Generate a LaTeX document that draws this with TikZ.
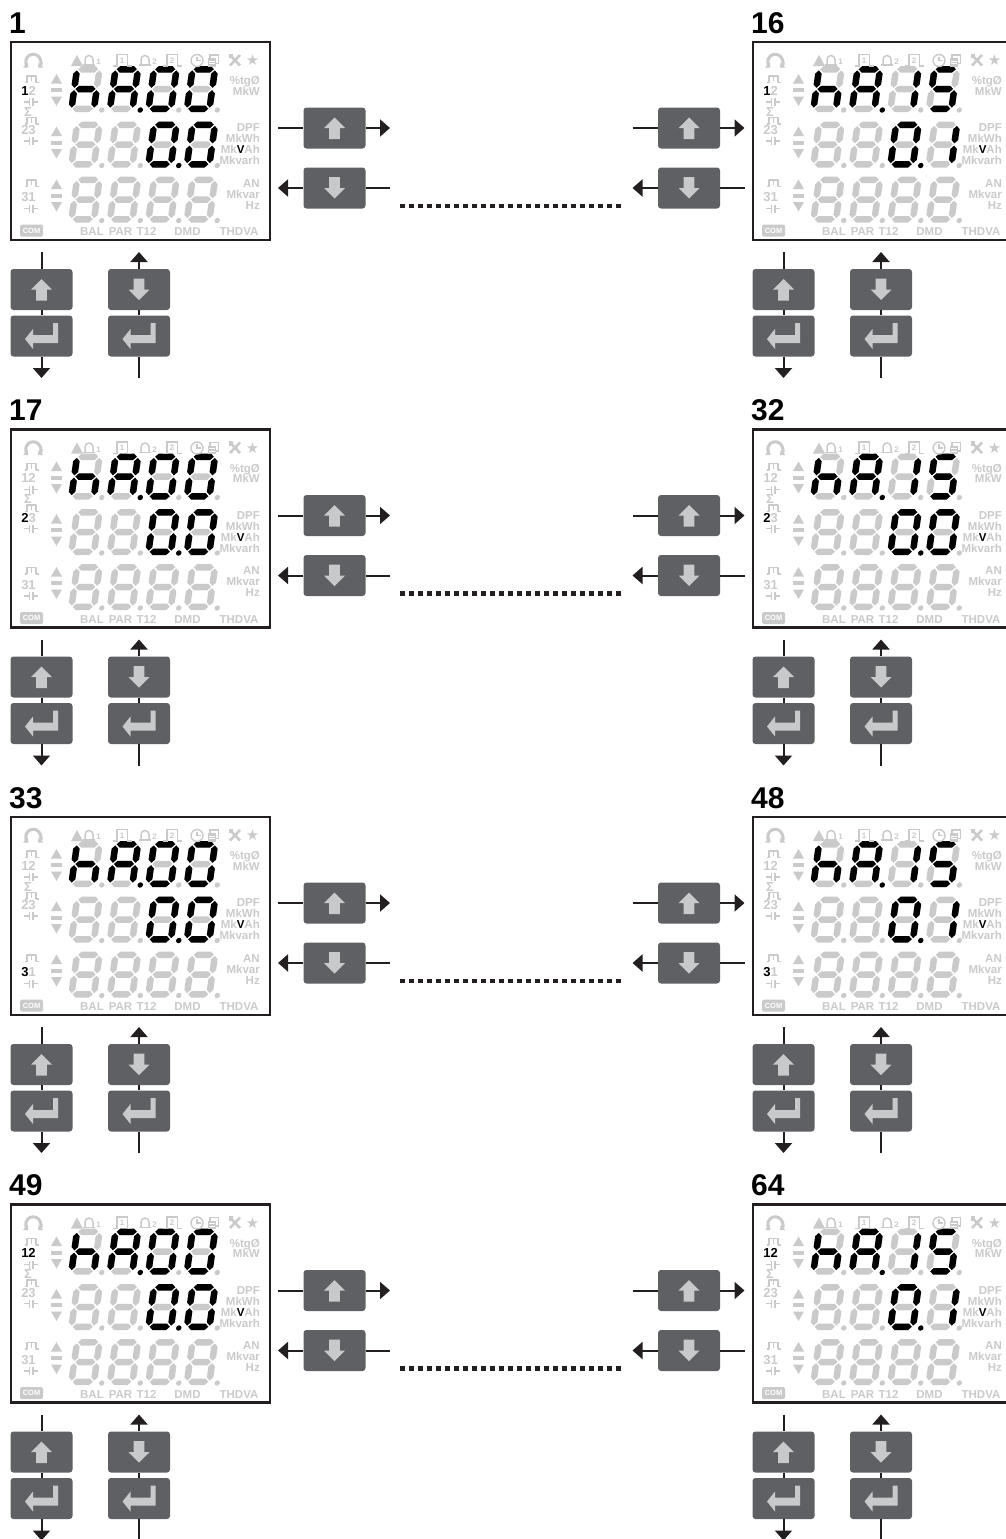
\documentclass[tikz,border=0pt]{standalone}
\usepackage{fontspec}
\setmainfont{Liberation Sans}
\newfontfamily\dejavu{DejaVu Sans}
\usetikzlibrary{arrows.meta}
\definecolor{lcdg}{RGB}{202,202,202}
\definecolor{btnfill}{RGB}{94,96,99}
\definecolor{btnicon}{RGB}{200,201,203}
\definecolor{ink}{RGB}{35,31,32}
\newcommand\K[1]{{\color{black}#1}}
\def\segA{\fill (-10.05,-19.75) -- (-6.8,-23) -- (6.8,-23) -- (10.05,-19.75) -- (6.8,-16.5) -- (-6.8,-16.5) -- cycle;}
\def\segG{\fill (-10.05,0) -- (-6.8,-3.25) -- (6.8,-3.25) -- (10.05,0) -- (6.8,3.25) -- (-6.8,3.25) -- cycle;}
\def\segD{\fill (-10.05,19.75) -- (-6.8,16.5) -- (6.8,16.5) -- (10.05,19.75) -- (6.8,23) -- (-6.8,23) -- cycle;}
\def\segF{\fill (-11.25,-18.55) -- (-8,-15.3) -- (-8,-4.45) -- (-11.25,-1.2) -- (-14.5,-4.45) -- (-14.5,-15.3) -- cycle;}
\def\segE{\fill (-11.25,1.2) -- (-8,4.45) -- (-8,15.3) -- (-11.25,18.55) -- (-14.5,15.3) -- (-14.5,4.45) -- cycle;}
\def\segB{\fill (11.25,-18.55) -- (14.5,-15.3) -- (14.5,-4.45) -- (11.25,-1.2) -- (8,-4.45) -- (8,-15.3) -- cycle;}
\def\segC{\fill (11.25,1.2) -- (14.5,4.45) -- (14.5,15.3) -- (11.25,18.55) -- (8,15.3) -- (8,4.45) -- cycle;}
\def\segP{\fill (19.2,21) circle (2.7pt);}
\newcommand\dig[3]{\begin{scope}[shift={(#1,#2)},xslant=0.14]\foreach \sg in {#3}{\csname seg\sg\endcsname}\end{scope}}
\newcommand\wavesym[2]{\draw[lcdg,line width=1.5pt,line join=round] (#1-7,#2+3.5) -- (#1-4.5,#2+3.5) -- (#1-4.5,#2-3) -- (#1+4.5,#2-3) -- (#1+4.5,#2+3.5) -- (#1+7,#2+3.5) (#1,#2-3) -- (#1,#2+2);}
\newcommand\capsym[2]{\draw[lcdg,line width=1.4pt] (#1-7,#2) -- (#1-1.8,#2) (#1-1.8,#2-4) -- (#1-1.8,#2+4) (#1+1.8,#2-4) -- (#1+1.8,#2+4) (#1+1.8,#2) -- (#1+7,#2);}
\newcommand\updn[1]{\fill[lcdg] (40,#1-6.5) -- (51,#1-6.5) -- (45.5,#1-16) -- cycle; \fill[lcdg] (40,#1-2) rectangle (51,#1+2); \fill[lcdg] (40,#1+6.5) -- (51,#1+6.5) -- (45.5,#1+16) -- cycle;}
\newcommand\bellsym[2]{\draw[lcdg,line width=1.5pt] (#1-4,23) -- (#1-4,17.5) arc[start angle=180,end angle=0,radius=4pt] -- (#1+4,23); \draw[lcdg,line width=1.5pt] (#1-6,23) -- (#1+6,23); \node[lcdsm] at (#1+9.5,20) {#2};}
\newcommand\pulsesym[2]{\draw[lcdg,line width=1.4pt] (#1-10,24) -- (#1-6,24) -- (#1-6,12.5) -- (#1+4.5,12.5) -- (#1+4.5,24) -- (#1+9,24); \node[lcdsm] at (#1-0.8,18.5) {#2};}
% LCD panel: #1 ox, #2 oy, #3 "12", #4 "23", #5 "31", #6 row1 digit3, #7 row1 digit4, #8 row2 digit4
\newcommand\lcd[8]{%
\begin{scope}[shift={(#1,#2)}]
\draw[ink,line width=2.6pt] (0,0) rectangle (259,198);
\begin{scope}[fill=lcdg]
\foreach \rr in {47,102.5,157.5}{\foreach \ii in {0,1,2,3}{\dig{74.5+38.5*\ii}{\rr}{A,B,C,D,E,F,G,P}}}
\end{scope}
\begin{scope}[fill=black]
\dig{74.5}{47}{F,E,G,C}
\dig{113}{47}{A,B,C,E,F,G,P}
\dig{151.5}{47}{#6}
\dig{190}{47}{#7}
\dig{151.5}{102.5}{A,B,C,D,E,F,P}
\dig{190}{102.5}{#8}
\end{scope}
\draw[lcdg,line width=3pt,{Triangle[length=4pt,width=7pt]}-{Triangle[length=4pt,width=7pt]}] (27,25.5) arc[start angle=-50,end angle=230,radius=7.5pt];
\wavesym{20.5}{37}
\node[lcdnum] at (17.5,48.5) {#3};
\capsym{20}{60}
\node[lcdnum] at (17,69.5) {Σ};
\wavesym{20.5}{78.5}
\node[lcdnum] at (17.5,88) {#4};
\capsym{20}{99}
\wavesym{20.5}{141}
\node[lcdnum] at (17.5,155) {#5};
\capsym{20}{166.5}
\node[fill=lcdg,rounded corners=1.5pt,minimum width=23pt,minimum height=12pt,inner sep=0pt,text=white,font=\fontsize{7.5}{7.5}\selectfont\bfseries] at (20.5,188.5) {COM};
\updn{48}
\updn{100.5}
\updn{153.5}
\fill[lcdg] (60,24) -- (72,24) -- (66,13) -- cycle;
\bellsym{78}{1}
\pulsesym{112}{1}
\bellsym{134}{2}
\pulsesym{162}{2}
\draw[lcdg,line width=1.4pt] (186,18.5) circle (6pt);
\draw[lcdg,line width=1.4pt] (186,14.5) -- (186,18.5) -- (189.5,18.5);
\fill[lcdg] (196.5,16) rectangle (205,24.5);
\draw[lcdg,line width=1.2pt] (199,16) -- (199,13) -- (207.5,13) -- (207.5,21.5) -- (205,21.5);
\draw[white,line width=0.9pt] (198,19) -- (203.5,19) (198,21.8) -- (203.5,21.8);
\draw[lcdg,line width=2.6pt] (219,13) -- (229,23.5) (229,13) -- (219,23.5);
\fill[lcdg] (217.5,11.5) rectangle (222,16);
\node[text=lcdg,font=\dejavu\fontsize{15}{15}\selectfont,inner sep=0pt] at (241.5,18.5) {★};
\node[lcdtxt,anchor=east] at (249,38.5) {\%tgØ};
\node[lcdtxt,anchor=east] at (249,49) {MkW};
\node[lcdtxt,anchor=east] at (249,85.5) {DPF};
\node[lcdtxt,anchor=east] at (249,96.5) {MkWh};
\node[lcdtxt,anchor=east] at (249,107.5) {Mk\K{V}Ah};
\node[lcdtxt,anchor=east] at (249,118.5) {Mkvarh};
\node[lcdtxt,anchor=east] at (249,141) {AN};
\node[lcdtxt,anchor=east] at (249,152) {Mkvar};
\node[lcdtxt,anchor=east] at (249,163) {Hz};
\node[lcdtxt] at (81,189.5) {BAL};
\node[lcdtxt] at (109.5,189.5) {PAR};
\node[lcdtxt] at (135.5,189.5) {T12};
\node[lcdtxt] at (176.5,189.5) {DMD};
\node[lcdtxt] at (228,189.5) {THDVA};
\end{scope}}
\newcommand\hbtns[3]{%
\node[btn] (hu#1) at (#2,#3+86) {}; \pic at (hu#1) {upicon};
\node[btn] (hd#1) at (#2,#3+146) {}; \pic at (hd#1) {dnicon};
\coordinate (hua#1) at (#2-56.5,#3+86);
\coordinate (hub#1) at (#2+55.5,#3+86);
\coordinate (hda#1) at (#2-56.5,#3+146);
\coordinate (hdb#1) at (#2+55.5,#3+146);
\draw[conn] (hua#1) -- (hu#1);
\draw[conn,arr] (hu#1) -- (hub#1);
\draw[conn,arr] (hd#1) -- (hda#1);
\draw[conn] (hd#1) -- (hdb#1);}
\newcommand\stacks[3]{%
\node[btn] (su#1) at (#2+30.5,#3+247.5) {}; \pic at (su#1) {upicon};
\node[btn] (se#1) at (#2+30.5,#3+294) {}; \pic at (se#1) {enicon};
\coordinate (st#1) at (#2+30.5,#3+210);
\coordinate (sb#1) at (#2+30.5,#3+336);
\draw[conn] (st#1) -- (su#1);
\draw[conn] (su#1) -- (se#1);
\draw[conn,arr] (se#1) -- (sb#1);
\node[btn] (sd#1) at (#2+128,#3+247.5) {}; \pic at (sd#1) {dnicon};
\node[btn] (sf#1) at (#2+128,#3+294) {}; \pic at (sf#1) {enicon};
\coordinate (tt#1) at (#2+128,#3+210);
\coordinate (tb#1) at (#2+128,#3+336);
\draw[conn] (tb#1) -- (sf#1);
\draw[conn] (sf#1) -- (sd#1);
\draw[conn,arr] (sd#1) -- (tt#1);}
\newcommand\dotrow[2]{%
\coordinate (da#1) at (400,#2+164);
\coordinate (db#1) at (623,#2+164);
\draw[dotline] (da#1) -- (db#1);}
\begin{document}
\begin{tikzpicture}[x=1pt,y=-1pt,
  lcdtxt/.style={text=lcdg,font=\fontsize{11.5}{11.5}\selectfont\bfseries,inner sep=0pt,text height=8.3pt,text depth=0pt},
  lcdnum/.style={text=lcdg,font=\fontsize{13}{13}\selectfont\bfseries,inner sep=0pt,text height=9.3pt,text depth=0pt},
  lcdsm/.style={text=lcdg,font=\fontsize{8}{8}\selectfont\bfseries,inner sep=0pt},
  lbl/.style={font=\fontsize{30}{30}\selectfont\bfseries,inner sep=0pt,anchor=base west,text=black},
  btn/.style={fill=btnfill,rounded corners=3pt,minimum width=62pt,minimum height=41pt,inner sep=0pt},
  conn/.style={draw=ink,line width=2pt},
  arr/.style={-{Triangle[length=10pt,width=17pt]}},
  dotline/.style={draw=ink,line width=4.5pt,dash pattern=on 5pt off 4pt},
  upicon/.pic={\fill[btnicon] (0,-10.5) -- (10.5,0) -- (5.3,0) -- (5.3,11) -- (-5.3,11) -- (-5.3,0) -- (-10.5,0) -- cycle;},
  dnicon/.pic={\fill[btnicon] (0,10.5) -- (10.5,0) -- (5.3,0) -- (5.3,-11) -- (-5.3,-11) -- (-5.3,0) -- (-10.5,0) -- cycle;},
  enicon/.pic={\fill[btnicon] (16.5,-13) -- (16.5,7) -- (-8.5,7) -- (-8.5,13) -- (-16.5,3) -- (-8.5,-7) -- (-8.5,-1) -- (11.5,-1) -- (11.5,-13) -- cycle;}
]
\useasboundingbox (0,0) rectangle (1006,1539);
% row 1
\node[lbl] (lab1) at (9,33) {1};
\node[lbl] (lab16) at (751,33) {16};
\lcd{11}{42}{\K{1}2}{23}{31}{A,B,C,D,E,F}{A,B,C,D,E,F}{A,B,C,D,E,F}
\lcd{753}{42}{\K{1}2}{23}{31}{B,C}{A,F,G,C,D}{B,C}
\hbtns{a1}{334.5}{42}
\hbtns{b1}{689}{42}
\dotrow{1}{42}
\stacks{a1}{11}{42}
\stacks{b1}{753}{42}
% row 2
\node[lbl] (lab17) at (9,420.5) {17};
\node[lbl] (lab32) at (751,420.5) {32};
\lcd{11}{429.5}{12}{\K{2}3}{31}{A,B,C,D,E,F}{A,B,C,D,E,F}{A,B,C,D,E,F}
\lcd{753}{429.5}{12}{\K{2}3}{31}{B,C}{A,F,G,C,D}{A,B,C,D,E,F}
\hbtns{a2}{334.5}{429.5}
\hbtns{b2}{689}{429.5}
\dotrow{2}{429.5}
\stacks{a2}{11}{429.5}
\stacks{b2}{753}{429.5}
% row 3
\node[lbl] (lab33) at (9,808) {33};
\node[lbl] (lab48) at (751,808) {48};
\lcd{11}{817}{12}{23}{\K{3}1}{A,B,C,D,E,F}{A,B,C,D,E,F}{A,B,C,D,E,F}
\lcd{753}{817}{12}{23}{\K{3}1}{B,C}{A,F,G,C,D}{B,C}
\hbtns{a3}{334.5}{817}
\hbtns{b3}{689}{817}
\dotrow{3}{817}
\stacks{a3}{11}{817}
\stacks{b3}{753}{817}
% row 4
\node[lbl] (lab49) at (9,1195.5) {49};
\node[lbl] (lab64) at (751,1195.5) {64};
\lcd{11}{1204.5}{\K{12}}{23}{31}{A,B,C,D,E,F}{A,B,C,D,E,F}{A,B,C,D,E,F}
\lcd{753}{1204.5}{\K{12}}{23}{31}{B,C}{A,F,G,C,D}{B,C}
\hbtns{a4}{334.5}{1204.5}
\hbtns{b4}{689}{1204.5}
\dotrow{4}{1204.5}
\stacks{a4}{11}{1204.5}
\stacks{b4}{753}{1204.5}
\end{tikzpicture}
\end{document}
